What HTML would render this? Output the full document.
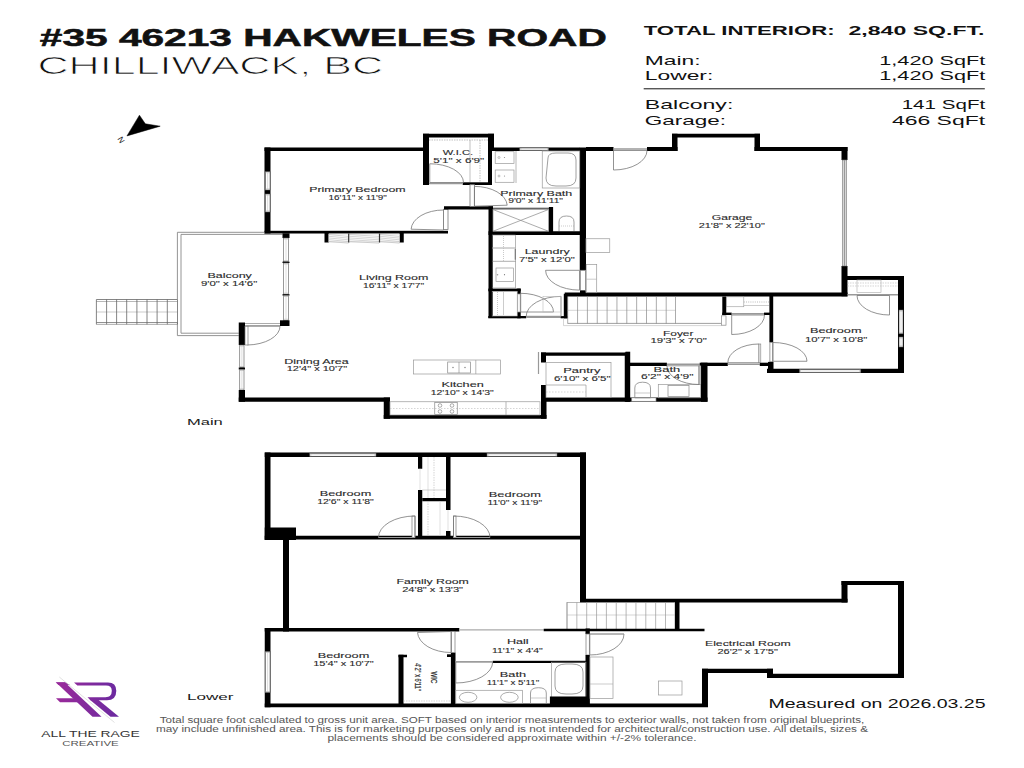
<!DOCTYPE html>
<html><head><meta charset="utf-8"><style>
html,body{margin:0;padding:0;background:#fff;width:1024px;height:768px;overflow:hidden}
svg{display:block;font-family:"Liberation Sans",sans-serif}
</style></head><body>
<svg width="1024" height="768" viewBox="0 0 1024 768">
<rect width="1024" height="768" fill="#fff"/>
<text x="39.80" y="45.60" font-size="23.2" fill="#111" font-weight="bold" textLength="567.00" lengthAdjust="spacingAndGlyphs" stroke="#111" stroke-width="0.5">#35 46213 HAKWELES ROAD</text>
<text x="37.50" y="73.60" font-size="23.4" fill="#111" font-weight="normal" textLength="345.50" lengthAdjust="spacingAndGlyphs" stroke="#fff" stroke-width="0.7">CHILLIWACK, BC</text>
<text x="643.70" y="35.30" font-size="13.5" fill="#111" font-weight="bold" textLength="191.00" lengthAdjust="spacingAndGlyphs" >TOTAL INTERIOR:</text>
<text x="984.50" y="35.30" font-size="13.5" fill="#111" font-weight="bold" text-anchor="end" textLength="136.00" lengthAdjust="spacingAndGlyphs" >2,840 SQ.FT.</text>
<text x="644.80" y="64.90" font-size="13.5" fill="#111" font-weight="normal" textLength="55.80" lengthAdjust="spacingAndGlyphs" >Main:</text>
<text x="985.20" y="64.90" font-size="13.5" fill="#111" font-weight="normal" text-anchor="end" textLength="105.90" lengthAdjust="spacingAndGlyphs" >1,420 SqFt</text>
<text x="644.80" y="80.40" font-size="13.5" fill="#111" font-weight="normal" textLength="68.50" lengthAdjust="spacingAndGlyphs" >Lower:</text>
<text x="985.20" y="80.40" font-size="13.5" fill="#111" font-weight="normal" text-anchor="end" textLength="105.90" lengthAdjust="spacingAndGlyphs" >1,420 SqFt</text>
<text x="644.80" y="109.40" font-size="13.5" fill="#111" font-weight="normal" textLength="88.50" lengthAdjust="spacingAndGlyphs" >Balcony:</text>
<text x="985.20" y="109.40" font-size="13.5" fill="#111" font-weight="normal" text-anchor="end" textLength="83.50" lengthAdjust="spacingAndGlyphs" >141 SqFt</text>
<text x="644.80" y="124.90" font-size="13.5" fill="#111" font-weight="normal" textLength="81.20" lengthAdjust="spacingAndGlyphs" >Garage:</text>
<text x="985.20" y="124.90" font-size="13.5" fill="#111" font-weight="normal" text-anchor="end" textLength="93.30" lengthAdjust="spacingAndGlyphs" >466 SqFt</text>
<line x1="643.70" y1="88.80" x2="984.80" y2="88.80" stroke="#111" stroke-width="1.0" />
<path d="M126.95,135.9 L139.45,115.2 L145.3,123.8 L160.2,126.2 Z" fill="#000" stroke="#000" stroke-width="0.5" />
<text x="121.00" y="142.50" font-size="8" fill="#222" font-weight="normal" text-anchor="middle" textLength="6.00" lengthAdjust="spacingAndGlyphs" transform="rotate(60 121 140)">N</text>
<rect x="264.50" y="147.50" width="160.50" height="3.50" fill="#000"/>
<rect x="264.50" y="147.50" width="6.00" height="86.00" fill="#000"/>
<rect x="265.30" y="171.70" width="4.70" height="18.30" fill="#fff" stroke="#555" stroke-width="0.6"/>
<line x1="267.65" y1="172.90" x2="267.65" y2="188.80" stroke="#bbb" stroke-width="0.5" />
<line x1="265.30" y1="172.70" x2="270.00" y2="172.70" stroke="#999" stroke-width="0.5" />
<line x1="265.30" y1="189.00" x2="270.00" y2="189.00" stroke="#999" stroke-width="0.5" />
<rect x="265.30" y="194.00" width="4.70" height="18.00" fill="#fff" stroke="#555" stroke-width="0.6"/>
<line x1="267.65" y1="195.20" x2="267.65" y2="210.80" stroke="#bbb" stroke-width="0.5" />
<line x1="265.30" y1="195.00" x2="270.00" y2="195.00" stroke="#999" stroke-width="0.5" />
<line x1="265.30" y1="211.00" x2="270.00" y2="211.00" stroke="#999" stroke-width="0.5" />
<rect x="264.50" y="230.80" width="183.50" height="2.70" fill="#000"/>
<rect x="324.50" y="232.50" width="4.25" height="10.00" fill="#000"/>
<rect x="399.50" y="232.50" width="4.25" height="10.00" fill="#000"/>
<rect x="328.80" y="234.00" width="70.70" height="8.00" fill="#fff" stroke="#bbb" stroke-width="0.5" />
<line x1="329.00" y1="234.60" x2="348.50" y2="236.40" stroke="#aaa" stroke-width="0.5" />
<line x1="329.00" y1="236.30" x2="348.50" y2="238.10" stroke="#aaa" stroke-width="0.5" />
<line x1="329.00" y1="238.00" x2="348.50" y2="239.80" stroke="#aaa" stroke-width="0.5" />
<line x1="329.00" y1="239.70" x2="348.50" y2="241.50" stroke="#aaa" stroke-width="0.5" />
<line x1="329.00" y1="241.40" x2="348.50" y2="243.20" stroke="#aaa" stroke-width="0.5" />
<line x1="349.50" y1="234.60" x2="379.00" y2="236.40" stroke="#aaa" stroke-width="0.5" />
<line x1="349.50" y1="236.30" x2="379.00" y2="238.10" stroke="#aaa" stroke-width="0.5" />
<line x1="349.50" y1="238.00" x2="379.00" y2="239.80" stroke="#aaa" stroke-width="0.5" />
<line x1="349.50" y1="239.70" x2="379.00" y2="241.50" stroke="#aaa" stroke-width="0.5" />
<line x1="349.50" y1="241.40" x2="379.00" y2="243.20" stroke="#aaa" stroke-width="0.5" />
<line x1="380.00" y1="234.60" x2="399.50" y2="236.40" stroke="#aaa" stroke-width="0.5" />
<line x1="380.00" y1="236.30" x2="399.50" y2="238.10" stroke="#aaa" stroke-width="0.5" />
<line x1="380.00" y1="238.00" x2="399.50" y2="239.80" stroke="#aaa" stroke-width="0.5" />
<line x1="380.00" y1="239.70" x2="399.50" y2="241.50" stroke="#aaa" stroke-width="0.5" />
<line x1="380.00" y1="241.40" x2="399.50" y2="243.20" stroke="#aaa" stroke-width="0.5" />
<line x1="348.70" y1="233.50" x2="348.70" y2="242.50" stroke="#333" stroke-width="1.2" />
<line x1="379.50" y1="233.50" x2="379.50" y2="242.50" stroke="#333" stroke-width="1.2" />
<path d="M443.50,230.00 L443.50,210.00 A32.40,20.00 0 0 0 411.10,229.20 Z" fill="none" stroke="#777" stroke-width="0.8"/>
<rect x="443.50" y="209.30" width="4.50" height="20.20" fill="#fff" stroke="#777" stroke-width="0.8" />
<rect x="423.00" y="133.75" width="6.00" height="51.25" fill="#000"/>
<rect x="423.00" y="133.75" width="71.00" height="3.75" fill="#000"/>
<rect x="488.00" y="133.75" width="6.00" height="17.25" fill="#000"/>
<rect x="462.70" y="182.30" width="29.30" height="2.70" fill="#000"/>
<line x1="429.00" y1="183.50" x2="462.70" y2="183.50" stroke="#999" stroke-width="1.5" />
<rect x="488.00" y="137.50" width="4.00" height="47.50" fill="#000"/>
<line x1="429.00" y1="140.00" x2="488.00" y2="140.00" stroke="#999" stroke-width="0.6" stroke-dasharray="1.5,1"/>
<line x1="470.00" y1="140.00" x2="470.00" y2="182.00" stroke="#999" stroke-width="0.6" />
<line x1="480.00" y1="140.00" x2="480.00" y2="182.00" stroke="#999" stroke-width="0.6" stroke-dasharray="1.5,1"/>
<path d="M429.75,182.50 L429.75,163.75 A33.75,18.75 0 0 1 463.50,182.50 Z" fill="none" stroke="#777" stroke-width="0.8"/>
<rect x="492.00" y="147.50" width="88.00" height="3.50" fill="#000"/>
<rect x="519.75" y="148.00" width="28.75" height="2.50" fill="#fff" stroke="#555" stroke-width="0.6"/>
<line x1="520.95" y1="149.25" x2="547.30" y2="149.25" stroke="#bbb" stroke-width="0.5" />
<line x1="520.75" y1="148.00" x2="520.75" y2="150.50" stroke="#999" stroke-width="0.5" />
<line x1="547.50" y1="148.00" x2="547.50" y2="150.50" stroke="#999" stroke-width="0.5" />
<rect x="579.75" y="147.50" width="6.25" height="122.80" fill="#000"/>
<rect x="444.00" y="206.25" width="49.00" height="3.25" fill="#000"/>
<line x1="493.00" y1="208.30" x2="549.00" y2="208.30" stroke="#333" stroke-width="1.1" />
<rect x="548.90" y="207.00" width="4.20" height="25.50" fill="#000"/>
<rect x="488.50" y="206.25" width="4.50" height="111.75" fill="#000"/>
<rect x="488.50" y="231.25" width="97.50" height="3.75" fill="#000"/>
<rect x="493.00" y="209.50" width="55.50" height="21.75" fill="none" stroke="#888" stroke-width="0.7" />
<line x1="493.00" y1="209.50" x2="548.50" y2="231.25" stroke="#888" stroke-width="0.7" />
<line x1="493.00" y1="231.25" x2="548.50" y2="209.50" stroke="#888" stroke-width="0.7" />
<rect x="470.00" y="184.70" width="4.40" height="21.70" fill="#fff" stroke="#777" stroke-width="0.8" />
<path d="M474.40,206.20 L474.40,186.40 A32.80,19.80 0 0 1 507.20,205.20 Z" fill="none" stroke="#777" stroke-width="0.8"/>
<line x1="516.00" y1="151.00" x2="516.00" y2="183.00" stroke="#999" stroke-width="0.7" />
<rect x="495.20" y="151.70" width="18.80" height="11.70" fill="none" stroke="#999" stroke-width="0.7" />
<rect x="495.20" y="170.00" width="18.80" height="12.30" fill="none" stroke="#999" stroke-width="0.7" />
<circle cx="499" cy="157.5" r="1" fill="none" stroke="#888" stroke-width="0.5"/><circle cx="504.5" cy="157.5" r="0.6" fill="#888"/>
<circle cx="499" cy="176" r="1" fill="none" stroke="#888" stroke-width="0.5"/><circle cx="504.5" cy="176" r="0.6" fill="#888"/>
<rect x="542.25" y="151.00" width="37.50" height="37.00" fill="none" stroke="#999" stroke-width="0.7" />
<path d="M548,158 Q548,153 556,153 L568,153 Q576,153 576,160 L576,178 Q576,186 566,186 L556,186 Q546,186 546,178 Z" fill="none" stroke="#888" stroke-width="0.8" />
<path d="M559,231 L559,222 Q559,216 566.5,216 Q574,216 574,222 L574,231" fill="none" stroke="#888" stroke-width="0.8" />
<line x1="559.00" y1="226.00" x2="574.00" y2="226.00" stroke="#aaa" stroke-width="0.6" stroke-dasharray="1,1"/>
<rect x="488.30" y="288.60" width="32.40" height="2.70" fill="#000"/>
<rect x="517.20" y="288.60" width="3.50" height="5.40" fill="#000"/>
<rect x="517.20" y="312.00" width="3.50" height="6.30" fill="#000"/>
<rect x="488.30" y="316.00" width="37.90" height="2.30" fill="#000"/>
<rect x="517.70" y="294.00" width="2.50" height="18.00" fill="#fff" stroke="#888" stroke-width="0.7" />
<line x1="526.20" y1="317.30" x2="561.00" y2="317.30" stroke="#999" stroke-width="1.6" />
<rect x="560.70" y="316.10" width="6.80" height="2.20" fill="#000"/>
<rect x="492.25" y="235.00" width="23.35" height="53.00" fill="none" stroke="#888" stroke-width="0.6" />
<line x1="492.25" y1="248.00" x2="515.60" y2="248.00" stroke="#aaa" stroke-width="1.0" />
<line x1="492.25" y1="261.30" x2="515.60" y2="261.30" stroke="#777" stroke-width="0.6" />
<rect x="496.00" y="268.00" width="17.50" height="13.30" fill="none" stroke="#888" stroke-width="0.6" />
<circle cx="497.5" cy="274.7" r="0.8" fill="#999"/><circle cx="504.5" cy="274.7" r="0.6" fill="#777"/>
<line x1="503.50" y1="236.00" x2="503.50" y2="261.00" stroke="#bbb" stroke-width="0.8" stroke-dasharray="1,1"/>
<line x1="515.20" y1="249.00" x2="515.20" y2="259.70" stroke="#444" stroke-width="0.7" />
<rect x="492.20" y="291.30" width="25.00" height="24.70" fill="none" stroke="#aaa" stroke-width="0.6" />
<line x1="497.50" y1="292.00" x2="497.50" y2="315.00" stroke="#bbb" stroke-width="0.8" stroke-dasharray="1,1"/>
<line x1="503.50" y1="292.00" x2="503.50" y2="315.00" stroke="#aaa" stroke-width="0.6" />
<path d="M520.70,312.00 L553.50,312.00 A32.80,18.70 0 0 0 520.70,293.30 Z" fill="none" stroke="#777" stroke-width="0.8"/>
<path d="M561.00,316.30 L561.00,296.40 A34.80,19.90 0 0 0 526.20,316.30 Z" fill="none" stroke="#777" stroke-width="0.8"/>
<rect x="543.00" y="296.40" width="18.00" height="15.60" fill="none" stroke="#bbb" stroke-width="0.6" />
<rect x="580.30" y="270.30" width="5.10" height="20.30" fill="#fff" stroke="#777" stroke-width="0.8" />
<rect x="580.00" y="290.60" width="5.70" height="5.40" fill="#000"/>
<path d="M579.50,270.30 L545.60,270.30 A33.90,19.80 0 0 0 579.50,290.10 Z" fill="none" stroke="#777" stroke-width="0.8"/>
<rect x="586.00" y="147.00" width="27.50" height="4.00" fill="#000"/>
<rect x="647.00" y="147.00" width="30.50" height="4.00" fill="#000"/>
<rect x="672.00" y="133.75" width="5.50" height="17.25" fill="#000"/>
<rect x="672.00" y="133.75" width="88.00" height="3.75" fill="#000"/>
<rect x="754.50" y="133.75" width="5.50" height="17.25" fill="#000"/>
<rect x="754.50" y="147.00" width="93.00" height="4.00" fill="#000"/>
<rect x="841.50" y="147.00" width="6.00" height="13.00" fill="#000"/>
<rect x="841.50" y="266.00" width="6.00" height="30.25" fill="#000"/>
<rect x="842.30" y="160.00" width="4.40" height="106.00" fill="#fff" stroke="#666" stroke-width="0.6" />
<line x1="844.50" y1="160.00" x2="844.50" y2="266.00" stroke="#999" stroke-width="1.8" />
<rect x="564.75" y="292.50" width="282.75" height="4.00" fill="#000"/>
<path d="M613.50,150.50 L613.50,170.00 A33.50,19.50 0 0 0 647.00,150.50 Z" fill="none" stroke="#777" stroke-width="0.8"/>
<line x1="613.50" y1="149.00" x2="647.00" y2="149.00" stroke="#999" stroke-width="1.5" />
<rect x="586.00" y="238.75" width="23.75" height="13.75" fill="none" stroke="#999" stroke-width="0.7" />
<rect x="586.25" y="264.60" width="10.45" height="28.10" fill="none" stroke="#999" stroke-width="0.7" />
<line x1="586.25" y1="279.20" x2="596.70" y2="279.20" stroke="#aaa" stroke-width="0.6" />
<path d="M264.5,232.3 L177.4,232.3 L177.4,299.5 M177.4,322.5 L177.4,335.6 L238.75,335.6" fill="none" stroke="#888" stroke-width="0.9" />
<path d="M282.5,234.4 L181,234.4 L181,333.2 L238.75,333.2" fill="none" stroke="#888" stroke-width="0.9" />
<line x1="96.40" y1="299.50" x2="177.40" y2="299.50" stroke="#666" stroke-width="0.8" />
<line x1="96.40" y1="301.50" x2="177.40" y2="301.50" stroke="#888" stroke-width="0.6" />
<line x1="96.40" y1="322.60" x2="177.40" y2="322.60" stroke="#666" stroke-width="0.8" />
<line x1="96.40" y1="324.50" x2="177.40" y2="324.50" stroke="#888" stroke-width="0.6" />
<line x1="96.40" y1="312.00" x2="177.40" y2="312.00" stroke="#aaa" stroke-width="0.6" />
<line x1="96.40" y1="299.50" x2="96.40" y2="324.40" stroke="#666" stroke-width="0.8" />
<line x1="106.60" y1="299.50" x2="106.60" y2="324.40" stroke="#666" stroke-width="0.8" />
<line x1="116.60" y1="299.50" x2="116.60" y2="324.40" stroke="#666" stroke-width="0.8" />
<line x1="126.70" y1="299.50" x2="126.70" y2="324.40" stroke="#666" stroke-width="0.8" />
<line x1="136.90" y1="299.50" x2="136.90" y2="324.40" stroke="#666" stroke-width="0.8" />
<line x1="147.00" y1="299.50" x2="147.00" y2="324.40" stroke="#666" stroke-width="0.8" />
<line x1="157.10" y1="299.50" x2="157.10" y2="324.40" stroke="#666" stroke-width="0.8" />
<line x1="167.30" y1="299.50" x2="167.30" y2="324.40" stroke="#666" stroke-width="0.8" />
<line x1="177.50" y1="299.50" x2="177.50" y2="324.40" stroke="#666" stroke-width="0.8" />
<rect x="282.50" y="233.30" width="7.00" height="4.70" fill="#000"/>
<rect x="283.50" y="238.00" width="5.00" height="23.70" fill="#fff" stroke="#555" stroke-width="0.6"/>
<line x1="286.00" y1="239.20" x2="286.00" y2="260.50" stroke="#bbb" stroke-width="0.5" />
<line x1="283.50" y1="239.00" x2="288.50" y2="239.00" stroke="#999" stroke-width="0.5" />
<line x1="283.50" y1="260.70" x2="288.50" y2="260.70" stroke="#999" stroke-width="0.5" />
<rect x="282.50" y="261.70" width="7.00" height="1.30" fill="#000"/>
<rect x="283.50" y="263.00" width="5.00" height="31.20" fill="#fff" stroke="#555" stroke-width="0.6"/>
<line x1="286.00" y1="264.20" x2="286.00" y2="293.00" stroke="#bbb" stroke-width="0.5" />
<line x1="283.50" y1="264.00" x2="288.50" y2="264.00" stroke="#999" stroke-width="0.5" />
<line x1="283.50" y1="293.20" x2="288.50" y2="293.20" stroke="#999" stroke-width="0.5" />
<rect x="282.50" y="294.20" width="7.00" height="1.30" fill="#000"/>
<rect x="283.50" y="295.50" width="5.00" height="24.80" fill="#fff" stroke="#555" stroke-width="0.6"/>
<line x1="286.00" y1="296.70" x2="286.00" y2="319.10" stroke="#bbb" stroke-width="0.5" />
<line x1="283.50" y1="296.50" x2="288.50" y2="296.50" stroke="#999" stroke-width="0.5" />
<line x1="283.50" y1="319.30" x2="288.50" y2="319.30" stroke="#999" stroke-width="0.5" />
<rect x="280.00" y="320.30" width="9.50" height="5.70" fill="#000"/>
<rect x="238.75" y="322.50" width="6.25" height="22.50" fill="#000"/>
<rect x="239.75" y="345.00" width="4.25" height="22.50" fill="#fff" stroke="#555" stroke-width="0.6"/>
<line x1="241.88" y1="346.20" x2="241.88" y2="366.30" stroke="#bbb" stroke-width="0.5" />
<line x1="239.75" y1="346.00" x2="244.00" y2="346.00" stroke="#999" stroke-width="0.5" />
<line x1="239.75" y1="366.50" x2="244.00" y2="366.50" stroke="#999" stroke-width="0.5" />
<rect x="238.75" y="367.50" width="6.25" height="2.00" fill="#000"/>
<rect x="239.75" y="369.50" width="4.25" height="20.50" fill="#fff" stroke="#555" stroke-width="0.6"/>
<line x1="241.88" y1="370.70" x2="241.88" y2="388.80" stroke="#bbb" stroke-width="0.5" />
<line x1="239.75" y1="370.50" x2="244.00" y2="370.50" stroke="#999" stroke-width="0.5" />
<line x1="239.75" y1="389.00" x2="244.00" y2="389.00" stroke="#999" stroke-width="0.5" />
<rect x="238.75" y="390.00" width="6.25" height="11.75" fill="#000"/>
<line x1="245.00" y1="323.50" x2="280.00" y2="323.50" stroke="#888" stroke-width="0.7" />
<line x1="245.00" y1="325.50" x2="280.00" y2="325.50" stroke="#888" stroke-width="0.7" />
<path d="M246.50,326.25 L247.50,345.00 A33.50,18.75 0 0 0 280.00,326.25 Z" fill="none" stroke="#777" stroke-width="0.8"/>
<rect x="245.00" y="326.25" width="3.00" height="18.75" fill="#fff" stroke="#777" stroke-width="0.7" />
<rect x="238.75" y="397.50" width="151.25" height="4.25" fill="#000"/>
<rect x="383.75" y="397.50" width="6.25" height="21.25" fill="#000"/>
<rect x="383.75" y="415.00" width="162.75" height="3.75" fill="#000"/>
<rect x="541.00" y="397.50" width="5.50" height="21.25" fill="#000"/>
<rect x="413.40" y="360.00" width="87.00" height="14.00" fill="none" stroke="#999" stroke-width="0.7" />
<line x1="475.80" y1="360.00" x2="475.80" y2="374.00" stroke="#999" stroke-width="0.7" />
<rect x="447.70" y="362.00" width="22.80" height="11.00" fill="none" stroke="#888" stroke-width="0.7" />
<line x1="459.00" y1="362.00" x2="459.00" y2="373.00" stroke="#888" stroke-width="0.6" />
<circle cx="453" cy="367.5" r="0.7" fill="#777"/><circle cx="465" cy="367.5" r="0.7" fill="#777"/>
<rect x="390.00" y="401.75" width="150.00" height="13.25" fill="none" stroke="#999" stroke-width="0.7" />
<line x1="390.00" y1="408.50" x2="540.00" y2="408.50" stroke="#bbb" stroke-width="0.6" stroke-dasharray="1.5,1.5"/>
<rect x="434.75" y="402.50" width="22.50" height="12.00" fill="none" stroke="#888" stroke-width="0.7" />
<circle cx="440" cy="405.5" r="1.8" fill="none" stroke="#777" stroke-width="0.6"/>
<circle cx="452" cy="405.5" r="1.8" fill="none" stroke="#777" stroke-width="0.6"/>
<circle cx="440" cy="411.5" r="1.8" fill="none" stroke="#777" stroke-width="0.6"/>
<circle cx="452" cy="411.5" r="1.8" fill="none" stroke="#777" stroke-width="0.6"/>
<line x1="506.00" y1="401.75" x2="506.00" y2="415.00" stroke="#999" stroke-width="0.7" />
<rect x="541.00" y="352.50" width="88.75" height="3.25" fill="#000"/>
<rect x="624.75" y="352.50" width="5.00" height="49.25" fill="#000"/>
<rect x="541.00" y="352.50" width="5.00" height="10.00" fill="#000"/>
<rect x="541.00" y="385.00" width="5.00" height="16.75" fill="#000"/>
<rect x="541.00" y="397.50" width="166.50" height="4.25" fill="#000"/>
<line x1="538.50" y1="352.00" x2="538.50" y2="374.00" stroke="#999" stroke-width="1.2" />
<rect x="546.00" y="362.50" width="65.00" height="35.00" fill="none" stroke="#999" stroke-width="0.7" />
<line x1="546.00" y1="385.00" x2="586.00" y2="385.00" stroke="#999" stroke-width="0.7" />
<line x1="586.00" y1="385.00" x2="586.00" y2="397.50" stroke="#999" stroke-width="0.7" />
<line x1="546.00" y1="392.00" x2="586.00" y2="392.00" stroke="#bbb" stroke-width="0.6" stroke-dasharray="1.5,1.5"/>
<rect x="626.25" y="362.70" width="40.65" height="3.30" fill="#000"/>
<line x1="666.90" y1="364.30" x2="699.70" y2="364.30" stroke="#999" stroke-width="1.5" />
<rect x="699.70" y="362.70" width="28.10" height="3.30" fill="#000"/>
<line x1="727.80" y1="364.30" x2="759.80" y2="364.30" stroke="#999" stroke-width="1.5" />
<rect x="759.80" y="362.70" width="12.50" height="3.30" fill="#000"/>
<rect x="701.00" y="362.70" width="6.50" height="39.05" fill="#000"/>
<rect x="625.50" y="351.70" width="4.70" height="50.05" fill="#000"/>
<rect x="631.70" y="397.80" width="24.30" height="3.50" fill="#fff" stroke="#888" stroke-width="0.7" />
<path d="M634.8,397.8 L634.8,388 Q634.8,382.2 642.6,382.2 Q650.5,382.2 650.5,388 L650.5,397.8 Z" fill="none" stroke="#888" stroke-width="0.8" />
<line x1="634.80" y1="393.00" x2="650.50" y2="393.00" stroke="#aaa" stroke-width="0.6" />
<rect x="658.30" y="384.50" width="42.20" height="13.30" fill="none" stroke="#999" stroke-width="0.7" />
<rect x="668.00" y="385.50" width="21.00" height="11.00" fill="none" stroke="#888" stroke-width="0.7" />
<rect x="699.00" y="365.80" width="1.80" height="18.70" fill="#fff" stroke="#777" stroke-width="0.6" />
<path d="M699.00,365.80 L699.00,384.50 A32.10,18.70 0 0 1 666.90,365.80 Z" fill="none" stroke="#777" stroke-width="0.8"/>
<path d="M759.00,362.70 L759.00,344.00 A31.20,18.70 0 0 0 727.80,362.70 Z" fill="none" stroke="#777" stroke-width="0.8"/>
<rect x="759.00" y="344.00" width="1.80" height="18.70" fill="#fff" stroke="#777" stroke-width="0.6" />
<rect x="563.80" y="293.75" width="3.90" height="24.55" fill="#000"/>
<line x1="567.70" y1="323.40" x2="721.50" y2="323.40" stroke="#888" stroke-width="0.8" />
<line x1="563.50" y1="325.60" x2="721.50" y2="325.60" stroke="#bbb" stroke-width="0.6" />
<line x1="563.50" y1="318.30" x2="563.50" y2="325.60" stroke="#bbb" stroke-width="0.6" />
<line x1="567.70" y1="310.30" x2="675.50" y2="310.30" stroke="#bbb" stroke-width="0.6" />
<line x1="567.70" y1="296.60" x2="567.70" y2="323.60" stroke="#888" stroke-width="0.7" />
<line x1="577.55" y1="296.60" x2="577.55" y2="323.60" stroke="#888" stroke-width="0.7" />
<line x1="587.40" y1="296.60" x2="587.40" y2="323.60" stroke="#888" stroke-width="0.7" />
<line x1="597.25" y1="296.60" x2="597.25" y2="323.60" stroke="#888" stroke-width="0.7" />
<line x1="607.10" y1="296.60" x2="607.10" y2="323.60" stroke="#888" stroke-width="0.7" />
<line x1="616.95" y1="296.60" x2="616.95" y2="323.60" stroke="#888" stroke-width="0.7" />
<line x1="626.80" y1="296.60" x2="626.80" y2="323.60" stroke="#888" stroke-width="0.7" />
<line x1="636.65" y1="296.60" x2="636.65" y2="323.60" stroke="#888" stroke-width="0.7" />
<line x1="646.50" y1="296.60" x2="646.50" y2="323.60" stroke="#888" stroke-width="0.7" />
<line x1="656.35" y1="296.60" x2="656.35" y2="323.60" stroke="#888" stroke-width="0.7" />
<line x1="666.20" y1="296.60" x2="666.20" y2="323.60" stroke="#888" stroke-width="0.7" />
<line x1="675.50" y1="296.60" x2="675.50" y2="323.60" stroke="#888" stroke-width="0.7" />
<rect x="721.50" y="315.80" width="4.50" height="9.40" fill="#fff" stroke="#888" stroke-width="0.7" />
<rect x="722.30" y="296.60" width="3.95" height="18.40" fill="#000"/>
<rect x="722.30" y="312.60" width="9.40" height="2.40" fill="#000"/>
<line x1="731.70" y1="313.80" x2="764.00" y2="313.80" stroke="#999" stroke-width="1.5" />
<rect x="764.00" y="312.60" width="8.30" height="2.40" fill="#000"/>
<rect x="726.25" y="296.80" width="17.55" height="9.95" fill="none" stroke="#999" stroke-width="0.6" />
<line x1="743.80" y1="302.00" x2="769.00" y2="302.00" stroke="#aaa" stroke-width="0.8" stroke-dasharray="1,1.2"/>
<line x1="743.80" y1="305.50" x2="769.00" y2="305.50" stroke="#aaa" stroke-width="0.6" />
<path d="M731.70,315.00 L731.70,334.50 A32.80,19.50 0 0 0 764.50,315.00 Z" fill="none" stroke="#777" stroke-width="0.8"/>
<rect x="769.40" y="293.75" width="3.80" height="48.55" fill="#000"/>
<rect x="769.90" y="342.30" width="2.80" height="19.60" fill="#fff" stroke="#777" stroke-width="0.7" />
<rect x="768.00" y="361.90" width="5.50" height="11.10" fill="#000"/>
<path d="M773.00,361.25 L773.00,342.50 A34.00,18.75 0 0 1 807.00,361.25 Z" fill="none" stroke="#777" stroke-width="0.8"/>
<rect x="767.00" y="368.75" width="137.00" height="4.25" fill="#000"/>
<rect x="799.50" y="369.50" width="61.25" height="3.00" fill="#fff" stroke="#555" stroke-width="0.6"/>
<line x1="800.70" y1="371.00" x2="859.55" y2="371.00" stroke="#bbb" stroke-width="0.5" />
<line x1="800.50" y1="369.50" x2="800.50" y2="372.50" stroke="#999" stroke-width="0.5" />
<line x1="859.75" y1="369.50" x2="859.75" y2="372.50" stroke="#999" stroke-width="0.5" />
<rect x="898.00" y="276.00" width="6.00" height="97.00" fill="#000"/>
<rect x="899.00" y="310.00" width="4.00" height="23.75" fill="#fff" stroke="#555" stroke-width="0.6"/>
<line x1="901.00" y1="311.20" x2="901.00" y2="332.55" stroke="#bbb" stroke-width="0.5" />
<line x1="899.00" y1="311.00" x2="903.00" y2="311.00" stroke="#999" stroke-width="0.5" />
<line x1="899.00" y1="332.75" x2="903.00" y2="332.75" stroke="#999" stroke-width="0.5" />
<rect x="899.00" y="337.00" width="4.00" height="10.00" fill="#fff" stroke="#555" stroke-width="0.6"/>
<line x1="901.00" y1="338.20" x2="901.00" y2="345.80" stroke="#bbb" stroke-width="0.5" />
<line x1="899.00" y1="338.00" x2="903.00" y2="338.00" stroke="#999" stroke-width="0.5" />
<line x1="899.00" y1="346.00" x2="903.00" y2="346.00" stroke="#999" stroke-width="0.5" />
<rect x="844.50" y="276.00" width="59.50" height="4.00" fill="#000"/>
<line x1="847.50" y1="283.00" x2="898.00" y2="283.00" stroke="#bbb" stroke-width="0.6" stroke-dasharray="1.5,1"/>
<line x1="847.50" y1="286.00" x2="898.00" y2="286.00" stroke="#bbb" stroke-width="0.6" stroke-dasharray="1.5,1"/>
<rect x="857.00" y="280.00" width="24.00" height="12.50" fill="none" stroke="#aaa" stroke-width="0.6" />
<line x1="847.50" y1="294.80" x2="898.00" y2="294.80" stroke="#999" stroke-width="1.4" />
<path d="M889.50,295.50 L889.50,315.00 A32.50,19.50 0 0 1 857.00,295.50 Z" fill="none" stroke="#777" stroke-width="0.8"/>
<text x="357.45" y="192.30" font-size="7.0" fill="#2a2a2a" font-weight="normal" text-anchor="middle" textLength="96.50" lengthAdjust="spacingAndGlyphs" stroke="#2a2a2a" stroke-width="0.1">Primary Bedroom</text>
<text x="357.70" y="200.30" font-size="7.0" fill="#2a2a2a" font-weight="normal" text-anchor="middle" textLength="58.40" lengthAdjust="spacingAndGlyphs" stroke="#2a2a2a" stroke-width="0.1">16'11&quot; x 11'9&quot;</text>
<text x="229.65" y="277.80" font-size="7.0" fill="#2a2a2a" font-weight="normal" text-anchor="middle" textLength="44.50" lengthAdjust="spacingAndGlyphs" stroke="#2a2a2a" stroke-width="0.1">Balcony</text>
<text x="229.05" y="285.60" font-size="7.0" fill="#2a2a2a" font-weight="normal" text-anchor="middle" textLength="56.30" lengthAdjust="spacingAndGlyphs" stroke="#2a2a2a" stroke-width="0.1">9'0&quot; x 14'6&quot;</text>
<text x="393.65" y="280.30" font-size="7.0" fill="#2a2a2a" font-weight="normal" text-anchor="middle" textLength="69.30" lengthAdjust="spacingAndGlyphs" stroke="#2a2a2a" stroke-width="0.1">Living Room</text>
<text x="393.57" y="288.10" font-size="7.0" fill="#2a2a2a" font-weight="normal" text-anchor="middle" textLength="61.25" lengthAdjust="spacingAndGlyphs" stroke="#2a2a2a" stroke-width="0.1">16'11&quot; x 17'7&quot;</text>
<text x="316.50" y="363.75" font-size="7.0" fill="#2a2a2a" font-weight="normal" text-anchor="middle" textLength="64.60" lengthAdjust="spacingAndGlyphs" stroke="#2a2a2a" stroke-width="0.1">Dining Area</text>
<text x="316.88" y="371.25" font-size="7.0" fill="#2a2a2a" font-weight="normal" text-anchor="middle" textLength="60.35" lengthAdjust="spacingAndGlyphs" stroke="#2a2a2a" stroke-width="0.1">12'4&quot; x 10'7&quot;</text>
<text x="462.62" y="387.00" font-size="7.0" fill="#2a2a2a" font-weight="normal" text-anchor="middle" textLength="42.35" lengthAdjust="spacingAndGlyphs" stroke="#2a2a2a" stroke-width="0.1">Kitchen</text>
<text x="462.25" y="395.00" font-size="7.0" fill="#2a2a2a" font-weight="normal" text-anchor="middle" textLength="63.10" lengthAdjust="spacingAndGlyphs" stroke="#2a2a2a" stroke-width="0.1">12'10&quot; x 14'3&quot;</text>
<text x="581.88" y="372.50" font-size="7.0" fill="#2a2a2a" font-weight="normal" text-anchor="middle" textLength="37.35" lengthAdjust="spacingAndGlyphs" stroke="#2a2a2a" stroke-width="0.1">Pantry</text>
<text x="582.25" y="380.50" font-size="7.0" fill="#2a2a2a" font-weight="normal" text-anchor="middle" textLength="56.60" lengthAdjust="spacingAndGlyphs" stroke="#2a2a2a" stroke-width="0.1">6'10&quot; x 6'5&quot;</text>
<text x="547.25" y="253.75" font-size="7.0" fill="#2a2a2a" font-weight="normal" text-anchor="middle" textLength="45.10" lengthAdjust="spacingAndGlyphs" stroke="#2a2a2a" stroke-width="0.1">Laundry</text>
<text x="546.88" y="262.00" font-size="7.0" fill="#2a2a2a" font-weight="normal" text-anchor="middle" textLength="55.85" lengthAdjust="spacingAndGlyphs" stroke="#2a2a2a" stroke-width="0.1">7'5&quot; x 12'0&quot;</text>
<text x="536.25" y="195.50" font-size="7.0" fill="#2a2a2a" font-weight="normal" text-anchor="middle" textLength="72.10" lengthAdjust="spacingAndGlyphs" stroke="#2a2a2a" stroke-width="0.1">Primary Bath</text>
<text x="535.62" y="203.25" font-size="7.0" fill="#2a2a2a" font-weight="normal" text-anchor="middle" textLength="54.85" lengthAdjust="spacingAndGlyphs" stroke="#2a2a2a" stroke-width="0.1">9'0&quot; x 11'11&quot;</text>
<text x="457.88" y="154.50" font-size="7.0" fill="#2a2a2a" font-weight="normal" text-anchor="middle" textLength="30.35" lengthAdjust="spacingAndGlyphs" stroke="#2a2a2a" stroke-width="0.1">W.I.C.</text>
<text x="458.75" y="162.50" font-size="7.0" fill="#2a2a2a" font-weight="normal" text-anchor="middle" textLength="51.10" lengthAdjust="spacingAndGlyphs" stroke="#2a2a2a" stroke-width="0.1">5'1&quot; x 6'9&quot;</text>
<text x="732.00" y="219.50" font-size="7.0" fill="#2a2a2a" font-weight="normal" text-anchor="middle" textLength="40.60" lengthAdjust="spacingAndGlyphs" stroke="#2a2a2a" stroke-width="0.1">Garage</text>
<text x="731.75" y="227.50" font-size="7.0" fill="#2a2a2a" font-weight="normal" text-anchor="middle" textLength="66.10" lengthAdjust="spacingAndGlyphs" stroke="#2a2a2a" stroke-width="0.1">21'8&quot; x 22'10&quot;</text>
<text x="678.23" y="335.60" font-size="7.0" fill="#2a2a2a" font-weight="normal" text-anchor="middle" textLength="30.55" lengthAdjust="spacingAndGlyphs" stroke="#2a2a2a" stroke-width="0.1">Foyer</text>
<text x="678.62" y="343.10" font-size="7.0" fill="#2a2a2a" font-weight="normal" text-anchor="middle" textLength="56.35" lengthAdjust="spacingAndGlyphs" stroke="#2a2a2a" stroke-width="0.1">19'3&quot; x 7'0&quot;</text>
<text x="666.90" y="371.60" font-size="7.0" fill="#2a2a2a" font-weight="normal" text-anchor="middle" textLength="26.60" lengthAdjust="spacingAndGlyphs" stroke="#2a2a2a" stroke-width="0.1">Bath</text>
<text x="667.30" y="379.40" font-size="7.0" fill="#2a2a2a" font-weight="normal" text-anchor="middle" textLength="52.40" lengthAdjust="spacingAndGlyphs" stroke="#2a2a2a" stroke-width="0.1">6'2&quot; x 4'9&quot;</text>
<text x="835.75" y="333.25" font-size="7.0" fill="#2a2a2a" font-weight="normal" text-anchor="middle" textLength="51.60" lengthAdjust="spacingAndGlyphs" stroke="#2a2a2a" stroke-width="0.1">Bedroom</text>
<text x="836.12" y="342.00" font-size="7.0" fill="#2a2a2a" font-weight="normal" text-anchor="middle" textLength="62.35" lengthAdjust="spacingAndGlyphs" stroke="#2a2a2a" stroke-width="0.1">10'7&quot; x 10'8&quot;</text>
<text x="187.00" y="424.70" font-size="9.4" fill="#1a1a1a" font-weight="normal" textLength="35.80" lengthAdjust="spacingAndGlyphs" >Main</text>
<rect x="264.75" y="452.50" width="321.25" height="4.50" fill="#000"/>
<rect x="309.75" y="453.30" width="66.25" height="3.00" fill="#fff" stroke="#555" stroke-width="0.6"/>
<line x1="310.95" y1="454.80" x2="374.80" y2="454.80" stroke="#bbb" stroke-width="0.5" />
<line x1="310.75" y1="453.30" x2="310.75" y2="456.30" stroke="#999" stroke-width="0.5" />
<line x1="375.00" y1="453.30" x2="375.00" y2="456.30" stroke="#999" stroke-width="0.5" />
<rect x="487.00" y="453.30" width="70.00" height="3.00" fill="#fff" stroke="#555" stroke-width="0.6"/>
<line x1="488.20" y1="454.80" x2="555.80" y2="454.80" stroke="#bbb" stroke-width="0.5" />
<line x1="488.00" y1="453.30" x2="488.00" y2="456.30" stroke="#999" stroke-width="0.5" />
<line x1="556.00" y1="453.30" x2="556.00" y2="456.30" stroke="#999" stroke-width="0.5" />
<rect x="264.75" y="452.50" width="5.75" height="87.50" fill="#000"/>
<rect x="264.75" y="527.50" width="31.25" height="12.50" fill="#000"/>
<rect x="264.75" y="535.75" width="315.25" height="3.75" fill="#000"/>
<rect x="580.00" y="452.50" width="6.00" height="150.00" fill="#000"/>
<rect x="283.00" y="539.50" width="6.00" height="92.00" fill="#000"/>
<rect x="418.00" y="455.00" width="4.25" height="13.75" fill="#000"/>
<rect x="418.00" y="490.00" width="4.25" height="47.50" fill="#000"/>
<rect x="446.00" y="455.00" width="4.50" height="55.00" fill="#000"/>
<rect x="446.00" y="531.00" width="4.50" height="6.50" fill="#000"/>
<rect x="422.25" y="498.00" width="23.75" height="3.25" fill="#000"/>
<line x1="434.00" y1="457.00" x2="434.00" y2="498.00" stroke="#bbb" stroke-width="0.6" stroke-dasharray="1.5,1"/>
<line x1="428.00" y1="457.00" x2="428.00" y2="498.00" stroke="#ccc" stroke-width="0.6" />
<line x1="428.00" y1="501.00" x2="428.00" y2="536.00" stroke="#bbb" stroke-width="0.6" stroke-dasharray="1.5,1"/>
<line x1="440.00" y1="501.00" x2="440.00" y2="536.00" stroke="#ccc" stroke-width="0.6" />
<line x1="422.25" y1="490.00" x2="446.00" y2="490.00" stroke="#bbb" stroke-width="0.6" />
<line x1="420.00" y1="468.75" x2="420.00" y2="490.00" stroke="#ccc" stroke-width="0.6" />
<line x1="448.00" y1="510.00" x2="448.00" y2="531.00" stroke="#ccc" stroke-width="0.6" />
<rect x="412.00" y="516.00" width="3.00" height="21.50" fill="#fff" stroke="#777" stroke-width="0.7" />
<path d="M415.00,537.50 L415.00,516.00 A36.50,21.50 0 0 0 378.50,537.50 Z" fill="none" stroke="#777" stroke-width="0.8"/>
<line x1="378.50" y1="537.50" x2="415.00" y2="537.50" stroke="#999" stroke-width="1.2" />
<rect x="453.50" y="516.00" width="2.50" height="21.50" fill="#fff" stroke="#777" stroke-width="0.7" />
<path d="M453.50,537.50 L453.50,516.00 A36.50,21.50 0 0 1 490.00,537.50 Z" fill="none" stroke="#777" stroke-width="0.8"/>
<line x1="453.50" y1="537.50" x2="490.00" y2="537.50" stroke="#999" stroke-width="1.2" />
<rect x="580.00" y="598.75" width="267.50" height="3.75" fill="#000"/>
<rect x="841.50" y="581.00" width="6.00" height="21.50" fill="#000"/>
<rect x="841.50" y="581.00" width="62.50" height="4.00" fill="#000"/>
<rect x="898.00" y="581.00" width="6.00" height="97.00" fill="#000"/>
<rect x="767.00" y="673.75" width="137.00" height="4.25" fill="#000"/>
<rect x="767.00" y="668.75" width="6.00" height="9.25" fill="#000"/>
<rect x="702.00" y="668.75" width="71.00" height="4.25" fill="#000"/>
<rect x="702.00" y="668.75" width="6.00" height="37.75" fill="#000"/>
<rect x="567.00" y="602.50" width="108.00" height="27.50" fill="none" stroke="#999" stroke-width="0.7" />
<line x1="567.00" y1="615.00" x2="675.00" y2="615.00" stroke="#bbb" stroke-width="0.6" />
<line x1="567.00" y1="602.50" x2="567.00" y2="630.00" stroke="#999" stroke-width="0.7" />
<line x1="576.85" y1="602.50" x2="576.85" y2="630.00" stroke="#999" stroke-width="0.7" />
<line x1="586.70" y1="602.50" x2="586.70" y2="630.00" stroke="#999" stroke-width="0.7" />
<line x1="596.55" y1="602.50" x2="596.55" y2="630.00" stroke="#999" stroke-width="0.7" />
<line x1="606.40" y1="602.50" x2="606.40" y2="630.00" stroke="#999" stroke-width="0.7" />
<line x1="616.25" y1="602.50" x2="616.25" y2="630.00" stroke="#999" stroke-width="0.7" />
<line x1="626.10" y1="602.50" x2="626.10" y2="630.00" stroke="#999" stroke-width="0.7" />
<line x1="635.95" y1="602.50" x2="635.95" y2="630.00" stroke="#999" stroke-width="0.7" />
<line x1="645.80" y1="602.50" x2="645.80" y2="630.00" stroke="#999" stroke-width="0.7" />
<line x1="655.65" y1="602.50" x2="655.65" y2="630.00" stroke="#999" stroke-width="0.7" />
<line x1="665.50" y1="602.50" x2="665.50" y2="630.00" stroke="#999" stroke-width="0.7" />
<line x1="675.35" y1="602.50" x2="675.35" y2="630.00" stroke="#999" stroke-width="0.7" />
<rect x="675.00" y="599.00" width="4.50" height="31.00" fill="#000"/>
<rect x="264.75" y="628.00" width="194.55" height="3.50" fill="#000"/>
<line x1="459.30" y1="629.80" x2="543.70" y2="629.80" stroke="#aaa" stroke-width="1.2" />
<rect x="543.70" y="628.75" width="160.80" height="2.50" fill="#000"/>
<rect x="264.75" y="628.00" width="5.75" height="79.25" fill="#000"/>
<rect x="265.25" y="651.50" width="4.75" height="41.00" fill="#fff" stroke="#555" stroke-width="0.6"/>
<line x1="267.62" y1="652.70" x2="267.62" y2="691.30" stroke="#bbb" stroke-width="0.5" />
<line x1="265.25" y1="652.50" x2="270.00" y2="652.50" stroke="#999" stroke-width="0.5" />
<line x1="265.25" y1="691.50" x2="270.00" y2="691.50" stroke="#999" stroke-width="0.5" />
<rect x="264.75" y="703.50" width="443.25" height="3.75" fill="#000"/>
<rect x="398.50" y="654.75" width="5.00" height="52.25" fill="#000"/>
<rect x="398.50" y="654.75" width="8.50" height="2.50" fill="#000"/>
<line x1="403.50" y1="701.00" x2="451.00" y2="701.00" stroke="#bbb" stroke-width="0.6" stroke-dasharray="1.5,1"/>
<rect x="447.00" y="654.30" width="4.00" height="2.70" fill="#000"/>
<rect x="450.90" y="652.50" width="4.60" height="54.50" fill="#000"/>
<rect x="451.50" y="631.40" width="3.50" height="21.10" fill="#fff" stroke="#777" stroke-width="0.7" />
<path d="M451.00,631.50 L451.00,652.50 A33.50,21.00 0 0 1 417.50,632.50 Z" fill="none" stroke="#777" stroke-width="0.8"/>
<rect x="585.50" y="628.50" width="4.30" height="5.50" fill="#000"/>
<rect x="586.00" y="634.00" width="3.30" height="21.00" fill="#fff" stroke="#777" stroke-width="0.7" />
<rect x="585.50" y="655.00" width="4.30" height="52.00" fill="#000"/>
<path d="M589.80,634.00 L589.80,655.00 A34.20,21.00 0 0 0 624.00,634.00 Z" fill="none" stroke="#777" stroke-width="0.8"/>
<line x1="589.80" y1="634.00" x2="624.00" y2="634.00" stroke="#999" stroke-width="0.7" />
<rect x="492.70" y="660.80" width="93.30" height="2.20" fill="#000"/>
<line x1="455.50" y1="661.90" x2="492.70" y2="661.90" stroke="#aaa" stroke-width="1.2" />
<path d="M455.80,661.90 L455.80,683.00 A36.90,21.10 0 0 0 492.70,661.90 Z" fill="none" stroke="#777" stroke-width="0.8"/>
<rect x="455.80" y="690.30" width="66.80" height="13.20" fill="none" stroke="#999" stroke-width="0.7" />
<ellipse cx="468.1" cy="697.3" rx="8.8" ry="5" fill="none" stroke="#888" stroke-width="0.7"/>
<ellipse cx="509.4" cy="697.3" rx="8.8" ry="5" fill="none" stroke="#888" stroke-width="0.7"/>
<path d="M530.5,703.5 L530.5,693 Q530.5,687.7 538.4,687.7 Q546.3,687.7 546.3,693 L546.3,703.5 Z" fill="none" stroke="#888" stroke-width="0.8" />
<line x1="530.50" y1="698.00" x2="546.30" y2="698.00" stroke="#aaa" stroke-width="0.6" />
<rect x="551.60" y="662.20" width="34.30" height="35.10" fill="none" stroke="#999" stroke-width="0.7" />
<path d="M555,672 Q555,664 566,664 L572,664 Q583,664 583,672 L583,686 Q583,694 572,694 L566,694 Q555,694 555,686 Z" fill="none" stroke="#888" stroke-width="0.8" />
<rect x="549.90" y="696.50" width="39.50" height="7.90" fill="#000"/>
<rect x="590.00" y="657.00" width="23.00" height="41.50" fill="none" stroke="#999" stroke-width="0.7" />
<line x1="590.00" y1="684.00" x2="613.00" y2="684.00" stroke="#aaa" stroke-width="0.6" />
<rect x="658.50" y="681.00" width="23.50" height="14.00" fill="none" stroke="#999" stroke-width="0.7" />
<text x="345.50" y="495.75" font-size="7.0" fill="#2a2a2a" font-weight="normal" text-anchor="middle" textLength="51.60" lengthAdjust="spacingAndGlyphs" stroke="#2a2a2a" stroke-width="0.1">Bedroom</text>
<text x="345.50" y="503.75" font-size="7.0" fill="#2a2a2a" font-weight="normal" text-anchor="middle" textLength="56.60" lengthAdjust="spacingAndGlyphs" stroke="#2a2a2a" stroke-width="0.1">12'6&quot; x 11'8&quot;</text>
<text x="514.90" y="496.70" font-size="7.0" fill="#2a2a2a" font-weight="normal" text-anchor="middle" textLength="52.20" lengthAdjust="spacingAndGlyphs" stroke="#2a2a2a" stroke-width="0.1">Bedroom</text>
<text x="514.80" y="504.90" font-size="7.0" fill="#2a2a2a" font-weight="normal" text-anchor="middle" textLength="54.60" lengthAdjust="spacingAndGlyphs" stroke="#2a2a2a" stroke-width="0.1">11'0&quot; x 11'9&quot;</text>
<text x="432.62" y="583.75" font-size="7.0" fill="#2a2a2a" font-weight="normal" text-anchor="middle" textLength="72.35" lengthAdjust="spacingAndGlyphs" stroke="#2a2a2a" stroke-width="0.1">Family Room</text>
<text x="432.62" y="592.00" font-size="7.0" fill="#2a2a2a" font-weight="normal" text-anchor="middle" textLength="60.85" lengthAdjust="spacingAndGlyphs" stroke="#2a2a2a" stroke-width="0.1">24'8&quot; x 13'3&quot;</text>
<text x="343.50" y="658.00" font-size="7.0" fill="#2a2a2a" font-weight="normal" text-anchor="middle" textLength="51.60" lengthAdjust="spacingAndGlyphs" stroke="#2a2a2a" stroke-width="0.1">Bedroom</text>
<text x="343.50" y="666.00" font-size="7.0" fill="#2a2a2a" font-weight="normal" text-anchor="middle" textLength="60.60" lengthAdjust="spacingAndGlyphs" stroke="#2a2a2a" stroke-width="0.1">15'4&quot; x 10'7&quot;</text>
<text x="517.80" y="644.00" font-size="7.0" fill="#2a2a2a" font-weight="normal" text-anchor="middle" textLength="21.80" lengthAdjust="spacingAndGlyphs" stroke="#2a2a2a" stroke-width="0.1">Hall</text>
<text x="517.35" y="652.50" font-size="7.0" fill="#2a2a2a" font-weight="normal" text-anchor="middle" textLength="50.90" lengthAdjust="spacingAndGlyphs" stroke="#2a2a2a" stroke-width="0.1">11'1&quot; x 4'4&quot;</text>
<text x="512.95" y="677.00" font-size="7.0" fill="#2a2a2a" font-weight="normal" text-anchor="middle" textLength="26.30" lengthAdjust="spacingAndGlyphs" stroke="#2a2a2a" stroke-width="0.1">Bath</text>
<text x="512.95" y="684.50" font-size="7.0" fill="#2a2a2a" font-weight="normal" text-anchor="middle" textLength="52.50" lengthAdjust="spacingAndGlyphs" stroke="#2a2a2a" stroke-width="0.1">11'1&quot; x 5'11&quot;</text>
<text x="747.88" y="645.75" font-size="7.0" fill="#2a2a2a" font-weight="normal" text-anchor="middle" textLength="85.85" lengthAdjust="spacingAndGlyphs" stroke="#2a2a2a" stroke-width="0.1">Electrical Room</text>
<text x="747.62" y="654.25" font-size="7.0" fill="#2a2a2a" font-weight="normal" text-anchor="middle" textLength="60.35" lengthAdjust="spacingAndGlyphs" stroke="#2a2a2a" stroke-width="0.1">26'2&quot; x 17'5&quot;</text>
<text x="430.60" y="677.50" font-size="8.6" fill="#2a2a2a" font-weight="normal" text-anchor="middle" textLength="12.00" lengthAdjust="spacingAndGlyphs" transform="rotate(90 430.6 677.5)" stroke="#2a2a2a" stroke-width="0.2">WIC</text>
<text x="415.20" y="677.00" font-size="8.6" fill="#2a2a2a" font-weight="normal" text-anchor="middle" textLength="27.60" lengthAdjust="spacingAndGlyphs" transform="rotate(90 415.2 677)" stroke="#2a2a2a" stroke-width="0.2">4'2&quot; x 6'11&quot;</text>
<text x="187.00" y="699.70" font-size="9.4" fill="#1a1a1a" font-weight="normal" textLength="46.50" lengthAdjust="spacingAndGlyphs" >Lower</text>
<text x="768.50" y="708.30" font-size="13.5" fill="#111" font-weight="normal" textLength="217.00" lengthAdjust="spacingAndGlyphs" >Measured on 2026.03.25</text>
<text x="512.00" y="723.00" font-size="8.5" fill="#555" font-weight="normal" text-anchor="middle" textLength="704.50" lengthAdjust="spacingAndGlyphs" >Total square foot calculated to gross unit area. SOFT based on interior measurements to exterior walls, not taken from original blueprints,</text>
<text x="512.00" y="732.00" font-size="8.5" fill="#555" font-weight="normal" text-anchor="middle" textLength="712.00" lengthAdjust="spacingAndGlyphs" >may include unfinished area. This is for marketing purposes only and is not intended for architectural/construction use.  All details, sizes &</text>
<text x="512.00" y="741.00" font-size="8.5" fill="#555" font-weight="normal" text-anchor="middle" textLength="369.00" lengthAdjust="spacingAndGlyphs" >placements should be considered approximate within +/-2% tolerance.</text>
<path d="M55.5,682.5 L65,682.5 L70,685 L62,685 Z" fill="#7b2a9c" stroke="none" stroke-width="0" />
<defs><linearGradient id="lg" x1="56" y1="0" x2="119" y2="0" gradientUnits="userSpaceOnUse"><stop offset="0" stop-color="#9a2a9a"/><stop offset="1" stop-color="#6a2aa0"/></linearGradient></defs>
<g fill="url(#lg)">
<polygon points="56,682.4 65,682.4 101.5,716.7 92.5,716.7"/>
<polygon points="56,682.4 66,682.4 68.5,685 58.5,685"/>
<polygon points="56,698.2 78.5,698.2 82.5,702.2 60,702.2"/>
<path d="M74,682.4 L108,682.4 Q116.3,682.4 116.3,690.8 Q116.3,700.3 107,700.3 L90.5,700.3 L87.5,697.2 L105.5,697.2 Q111.8,697.2 111.8,690.8 Q111.8,685.6 106,685.6 L77.3,685.6 Z"/>
<polygon points="89.5,699.5 98,699.5 119,716.7 110.5,716.7"/>
</g>
<line x1="59.30" y1="677.00" x2="114.50" y2="722.50" stroke="#ccc" stroke-width="0.6" />
<text x="90.50" y="737.30" font-size="8.4" fill="#333" font-weight="normal" text-anchor="middle" textLength="98.50" lengthAdjust="spacingAndGlyphs" >ALL THE RAGE</text>
<text x="90.50" y="746.40" font-size="6.6" fill="#555" font-weight="normal" text-anchor="middle" textLength="56.50" lengthAdjust="spacingAndGlyphs" >CREATIVE</text>
</svg></body></html>
